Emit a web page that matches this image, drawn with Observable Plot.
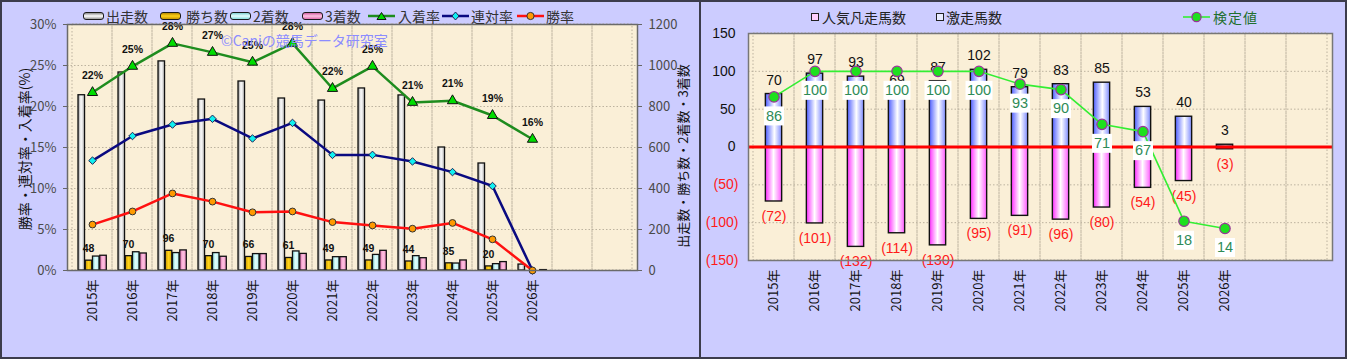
<!DOCTYPE html>
<html><head><meta charset="utf-8">
<script src="https://cdn.jsdelivr.net/npm/d3@7"></script>
<script src="https://cdn.jsdelivr.net/npm/@observablehq/plot@0.6"></script>
<style>
body{margin:0;background:#ccccff;width:1347px;height:359px;overflow:hidden;position:relative;font-family:"Noto Sans CJK JP","Noto Sans",sans-serif;}
.panel{position:absolute;top:0;height:359px;box-sizing:border-box;border:2px solid #3c3c4c;}
.abs{position:absolute;white-space:nowrap;}
.lg{position:absolute;white-space:nowrap;font-size:14px;line-height:14px;color:#333;transform:translateY(-50%);}
.sw{position:absolute;height:6px;border:1.5px solid #1a1a1a;border-radius:3px;transform:translateY(-50%);}
.sq{position:absolute;width:6px;height:6px;border:1.5px solid #1a1a1a;transform:translateY(-50%);}
.vt{position:absolute;white-space:nowrap;transform:translate(-50%,-50%) rotate(-90deg);color:#111;}
svg.plotsvg{position:absolute;top:0;}
</style>
</head><body>
<svg width="0" height="0" style="position:absolute">
<defs>
<linearGradient id="gWhite" x1="0" x2="1" y1="0" y2="0"><stop offset="0" stop-color="#8a8a8a"/><stop offset="0.45" stop-color="#ffffff"/><stop offset="1" stop-color="#b8b8b8"/></linearGradient>
<linearGradient id="gGold" x1="0" x2="1" y1="0" y2="0"><stop offset="0" stop-color="#c89600"/><stop offset="0.5" stop-color="#ffd21a"/><stop offset="1" stop-color="#d9a800"/></linearGradient>
<linearGradient id="gCyan" x1="0" x2="1" y1="0" y2="0"><stop offset="0" stop-color="#86dcdc"/><stop offset="0.5" stop-color="#e6ffff"/><stop offset="1" stop-color="#a8eeee"/></linearGradient>
<linearGradient id="gPink" x1="0" x2="1" y1="0" y2="0"><stop offset="0" stop-color="#e070b0"/><stop offset="0.5" stop-color="#ffc4e2"/><stop offset="1" stop-color="#ec8cc4"/></linearGradient>
<linearGradient id="gBlue" x1="0" x2="1" y1="0" y2="0"><stop offset="0" stop-color="#4f5fff"/><stop offset="0.55" stop-color="#ffffff"/><stop offset="1" stop-color="#7f8cff"/></linearGradient>
<linearGradient id="gMag" x1="0" x2="1" y1="0" y2="0"><stop offset="0" stop-color="#ff2eff"/><stop offset="0.5" stop-color="#ffffff"/><stop offset="1" stop-color="#ff5cff"/></linearGradient>
</defs></svg>
<div class="panel" style="left:0;width:701px;"></div>
<div class="panel" style="left:699px;width:648px;"></div>
<div id="root"></div>
<script>
// ---------- data ----------
const years = ["2015年","2016年","2017年","2018年","2019年","2020年","2021年","2022年","2023年","2024年","2025年","2026年"];
const emptySlots = ["pad1","pad2"];
// left chart (counts)
const starts  = [855, 966, 1020, 834, 922, 839, 829, 888, 854, 600, 522, 29];
const wins    = [48, 70, 96, 70, 66, 61, 49, 49, 44, 35, 20, 0];
const seconds = [68, 89, 85, 85, 80, 93, 65, 76, 70, 34, 31, 0];
const thirds  = [72, 83, 98, 67, 80, 81, 65, 96, 60, 49, 41, 2];
// left chart (rates, %)
const placeRate    = [21.7, 24.9, 27.7, 26.6, 25.4, 27.7, 22.2, 24.9, 20.5, 20.7, 18.9, 16.0];
const quinellaRate = [13.4, 16.4, 17.8, 18.5, 16.1, 18.0, 14.1, 14.1, 13.3, 12.0, 10.3, 0];
const winRate      = [5.6, 7.2, 9.4, 8.4, 7.1, 7.2, 5.9, 5.5, 5.1, 5.8, 3.8, 0];
const rateTicks  = [0, 5, 10, 15, 20, 25, 30];
const countTicks = [0, 200, 400, 600, 800, 1000, 1200];
// right chart
const hotCounts  = [70, 97, 93, 69, 87, 102, 79, 83, 85, 53, 40, 3];      // 激走馬数
const flopCounts = [72, 101, 132, 114, 130, 95, 91, 96, 80, 54, 45, 3];   // 人気凡走馬数
const testValues = [86, 100, 100, 100, 100, 100, 93, 90, 71, 67, 18, 14]; // 検定値
const rightTicks = [-150, -100, -50, 0, 50, 100, 150];
const testAxisDomain = [-3.5, 120.7]; // hidden secondary axis of 検定値

const slots = [...years, ...emptySlots];
const font = "'Noto Sans CJK JP','Noto Sans',sans-serif";
const root = document.getElementById("root");

// ---------- left chart ----------
(function(){
  const W = 700, H = 359, M = {top: 24, right: 63, bottom: 89, left: 67};
  const toPct = d3.scaleLinear([0, 1200], [0, 30]);
  const rows = years.map((year, i) => ({year, starts: starts[i], wins: wins[i], second: seconds[i], third: thirds[i],
    place: placeRate[i], quinella: quinellaRate[i], win: winRate[i]}));
  const bw = (W - M.left - M.right) / slots.length;
  const barW = 7.25, barOff = 6;
  const series = [["starts", "url(#gWhite)"], ["wins", "url(#gGold)"], ["second", "url(#gCyan)"], ["third", "url(#gPink)"]];
  const bars = series.map(([k, fill], i) => Plot.barY(rows.filter(d => d[k] > 0), {
    x: "year", y1: 0, y2: d => toPct(d[k]), fill, stroke: "#111", strokeWidth: 1.3,
    insetLeft: barOff + barW * i, insetRight: bw - barOff - barW * (i + 1)
  }));
  const grid = {stroke: "#b5ab98", strokeDasharray: "1.5,2", strokeWidth: 0.9};
  const svg = Plot.plot({
    width: W, height: H, marginTop: M.top, marginRight: M.right, marginBottom: M.bottom, marginLeft: M.left,
    style: {background: "transparent", fontFamily: font, fontSize: "13px", overflow: "visible"},
    x: {type: "band", domain: slots, padding: 0},
    y: {domain: [0, 30]},
    marks: [
      Plot.frame({fill: "#faefd7", stroke: null}),
      Plot.ruleY(rateTicks, grid),
      Plot.barY(slots, {x: d => d, y1: 0, y2: 30, fill: "none", ...grid}),
      ...bars,
      Plot.text(rows.filter(d => d.wins > 0), {x: "year", y: d => toPct(d.wins), text: d => d.wins, dy: -12, dx: -4,
        fontFamily: "'Liberation Sans',sans-serif", fontWeight: "bold", fontSize: 10.5, fill: "#111"}),
      Plot.line(rows, {x: "year", y: "place", stroke: "#1e8c1e", strokeWidth: 2.5}),
      Plot.line(rows, {x: "year", y: "quinella", stroke: "#0a0a80", strokeWidth: 2.5}),
      Plot.line(rows, {x: "year", y: "win", stroke: "#ff1010", strokeWidth: 2.5}),
      Plot.dot(rows, {x: "year", y: "place", symbol: "triangle", r: 3.8, fill: "#00dd00", stroke: "#111", strokeWidth: 1}),
      Plot.dot(rows, {x: "year", y: "quinella", symbol: "diamond2", r: 3.4, fill: "#10f0f0", stroke: "#225", strokeWidth: 1}),
      Plot.dot(rows, {x: "year", y: "win", symbol: "circle", r: 3.4, fill: "#ff9a00", stroke: "#333", strokeWidth: 1}),
      Plot.text(rows, {x: "year", y: "place", text: d => Math.round(d.place) + "%", dy: -17,
        fontFamily: "'Liberation Sans',sans-serif", fontWeight: "bold", fontSize: 10.5, fill: "#111"}),
      Plot.frame({stroke: "#6a6a6a", strokeWidth: 1.5}),
      Plot.axisX({ticks: years, tickRotate: -90, tickSize: 0, tickPadding: 9, fontSize: 13, fill: "#111", label: null}),
      Plot.axisY(rateTicks, {anchor: "left", tickFormat: d => d + "%", tickSize: 4, tickPadding: 7, fill: "#4a4a4a", stroke: "#666", label: null}),
      Plot.axisY(countTicks.map(toPct), {anchor: "right", tickFormat: d => String(Math.round(toPct.invert(d))), tickSize: 4, tickPadding: 7, fill: "#4a4a4a", stroke: "#666", label: null})
    ]
  });
  svg.classList.add("plotsvg");
  svg.style.left = "0px";
  root.appendChild(svg);
})();

// ---------- right chart ----------
(function(){
  const W = 647, H = 359, M = {top: 33, right: 15, bottom: 99, left: 48};
  const toMain = d3.scaleLinear(testAxisDomain, [-150, 150]);
  const rows = years.map((year, i) => ({year, hot: hotCounts[i], flop: flopCounts[i], test: testValues[i]}));
  const bw = (W - M.left - M.right) / slots.length;
  const barW = 17, inset = (bw - barW) / 2;
  const grid = {stroke: "#b5ab98", strokeDasharray: "1.5,2", strokeWidth: 0.9};
  const wide = {draw(ctx) { ctx.rect(-13.5, -9.5, 27, 19); }};
  const narrow = {draw(ctx) { ctx.rect(-10, -9.5, 20, 19); }};
  const svg = Plot.plot({
    width: W, height: H, marginTop: M.top, marginRight: M.right, marginBottom: M.bottom, marginLeft: M.left,
    style: {background: "transparent", fontFamily: font, fontSize: "13px", overflow: "visible"},
    x: {type: "band", domain: slots, padding: 0},
    y: {domain: [-150, 150]},
    marks: [
      Plot.frame({fill: "#faefd7", stroke: null}),
      Plot.ruleY(rightTicks, grid),
      Plot.barY(slots, {x: d => d, y1: -150, y2: 150, fill: "none", ...grid}),
      Plot.barY(rows, {x: "year", y1: 0, y2: "hot", fill: "url(#gBlue)", stroke: "#111", strokeWidth: 1.4, insetLeft: inset, insetRight: inset}),
      Plot.barY(rows, {x: "year", y1: 0, y2: d => -d.flop, fill: "url(#gMag)", stroke: "#111", strokeWidth: 1.4, insetLeft: inset, insetRight: inset}),
      Plot.ruleY([0], {stroke: "#ff0000", strokeWidth: 3}),
      Plot.text(rows, {x: "year", y: "hot", text: d => d.hot, dy: -14, fontSize: 14, fill: "#111", fontFamily: "'Liberation Sans',sans-serif"}),
      Plot.text(rows, {x: "year", y: d => -d.flop, text: d => `(${d.flop})`, dy: 15, fontSize: 14, fill: "#ff1a1a", fontFamily: "'Liberation Sans',sans-serif"}),
      Plot.line(rows, {x: "year", y: d => toMain(d.test), stroke: "#33ee33", strokeWidth: 1.6}),
      Plot.dot(rows, {x: "year", y: d => toMain(d.test), r: 5.2, fill: "#1ee01e", stroke: "#993399", strokeWidth: 1.2}),
      Plot.dot(rows.filter(d => d.test >= 100), {x: "year", y: d => toMain(d.test), dy: 19, symbol: wide, fill: "#ffffff", stroke: "none"}),
      Plot.dot(rows.filter(d => d.test < 100), {x: "year", y: d => toMain(d.test), dy: 19, symbol: narrow, fill: "#ffffff", stroke: "none"}),
      Plot.text(rows, {x: "year", y: d => toMain(d.test), text: d => d.test, dy: 19, fontSize: 14.5, fill: "#2e8b57", fontFamily: "'Liberation Sans',sans-serif"}),
      Plot.frame({stroke: "#777", strokeWidth: 1.5}),
      Plot.axisX({ticks: years, tickRotate: -90, tickSize: 0, tickPadding: 9, fontSize: 13, fill: "#111", label: null}),
      Plot.axisY(rightTicks.filter(d => d >= 0), {anchor: "left", tickSize: 0, tickPadding: 13, fontSize: 14, fill: "#111", label: null, fontFamily: "'Liberation Sans',sans-serif"}),
      Plot.axisY(rightTicks.filter(d => d < 0), {anchor: "left", tickFormat: d => `(${-d})`, tickSize: 0, tickPadding: 10, fontSize: 14, fill: "#ff1a1a", label: null, fontFamily: "'Liberation Sans',sans-serif"})
    ]
  });
  svg.classList.add("plotsvg");
  svg.style.left = "700px";
  root.appendChild(svg);
})();

// ---------- legends, titles, watermark ----------
function add(html){ root.insertAdjacentHTML("beforeend", html); }
const ly = 16;
const barLegend = [["出走数", "#8a8a8a,#ffffff 50%,#9a9a9a", 83, 106], ["勝ち数", "#b88a00,#ffd21a 50%,#c89600", 160, 186],
  ["2着数", "#7fd0d0,#e6ffff 50%,#86dcdc", 230, 253], ["3着数", "#d060a0,#ffc4e2 50%,#e070b0", 302, 325]];
barLegend.forEach(([t, g, sx, tx]) => {
  add(`<div class="sw" style="left:${sx}px;top:${ly}px;width:19px;background:linear-gradient(to bottom,${g});"></div>`);
  add(`<div class="lg" style="left:${tx}px;top:${ly}px;">${t}</div>`);
});
const lineLegend = [["入着率", "#1e8c1e", "triangle", "#00dd00", 368, 398], ["連対率", "#0a0a80", "diamond", "#10f0f0", 442, 471], ["勝率", "#ff1010", "circle", "#ff9a00", 517, 546]];
lineLegend.forEach(([t, col, sym, fill, x0, tx]) => {
  let m = sym === "triangle" ? `<path d="M13.5,1.5 L18,8.5 L9,8.5 Z" fill="${fill}" stroke="#111" stroke-width="1"/>`
        : sym === "diamond" ? `<path d="M13.5,1 L17,5 L13.5,9 L10,5 Z" fill="${fill}" stroke="#225" stroke-width="1"/>`
        : `<circle cx="13.5" cy="5" r="3.6" fill="${fill}" stroke="#333" stroke-width="1"/>`;
  add(`<svg class="abs" style="left:${x0}px;top:${ly - 5}px" width="27" height="10"><line x1="0" x2="27" y1="5" y2="5" stroke="${col}" stroke-width="2.5"/>${m}</svg>`);
  add(`<div class="lg" style="left:${tx}px;top:${ly}px;">${t}</div>`);
});
add(`<div class="abs" style="left:221px;top:31px;font-size:14px;line-height:18px;color:#8c8cff;">©Caniの競馬データ研究室</div>`);
add(`<div class="vt" style="left:24px;top:149px;font-size:14px;">勝率・連対率・入着率(%)</div>`);
add(`<div class="vt" style="left:682px;top:156px;font-size:13px;">出走数・勝ち数・2着数・3着数</div>`);
// right legend
const ry = 17;
add(`<div class="sq" style="left:811px;top:${ry}px;background:#ffd0ff;border-color:#222;"></div>`);
add(`<div class="lg" style="left:822px;top:${ry}px;color:#222;">人気凡走馬数</div>`);
add(`<div class="sq" style="left:936px;top:${ry}px;background:#e8ecff;border-color:#222;"></div>`);
add(`<div class="lg" style="left:946px;top:${ry}px;color:#222;">激走馬数</div>`);
add(`<svg class="abs" style="left:1183px;top:${ry - 6}px" width="27" height="12"><line x1="0" x2="27" y1="6" y2="6" stroke="#33ee33" stroke-width="1.6"/><circle cx="13.5" cy="6" r="4.6" fill="#1ee01e" stroke="#993399" stroke-width="1.2"/></svg>`);
add(`<div class="lg" style="left:1213px;top:${ry}px;color:#1f6f2f;letter-spacing:1px;">検定値</div>`);
</script>
</body></html>
